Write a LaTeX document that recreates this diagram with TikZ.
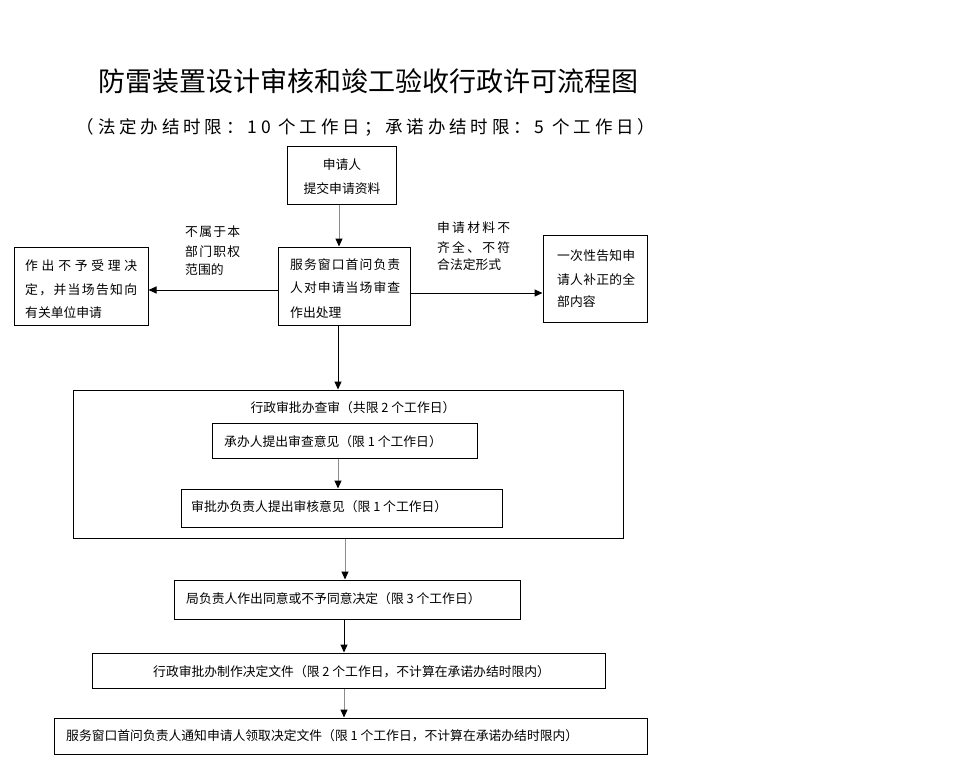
\documentclass[tikz,border=0pt]{standalone}
\usepackage{fontspec}
\newfontfamily\cjk{Noto Sans CJK SC}
\newfontfamily\cjksub[LetterSpace=22]{Noto Sans CJK SC}
\usetikzlibrary{arrows.meta}
\newcommand\jst[2]{\makebox[#1][s]{#2}}
\begin{document}
\begin{tikzpicture}[x=1pt,y=-1pt,
  box/.style={draw=black, line width=1pt, inner sep=0pt},
  txt/.style={font={\cjk\fontsize{12.8}{15}\selectfont}, inner sep=0pt, text=black},
  arr/.style={line width=1pt, draw=black, -{Triangle[length=8pt,width=7pt]}},
  garr/.style={line width=1pt, draw=black!45, -{Triangle[length=8pt,width=7pt,color=black]}}
]
\useasboundingbox (0,0) rectangle (960,779);

% title
\node[inner sep=0pt, font={\cjk\fontsize{27}{32}\selectfont}] (title) at (368,81) {防雷装置设计审核和竣工验收行政许可流程图};
\node[inner sep=0pt, font={\cjksub\fontsize{17.5}{20}\selectfont}] (sub) at (366,127) {（法定办结时限：10 个工作日；承诺办结时限：5 个工作日）};

% boxes
\node[box, minimum width=109pt, minimum height=58pt] (top) at (341.5,175) {};
\node[box, minimum width=132pt, minimum height=78pt] (mid) at (344,286) {};
\node[box, minimum width=134pt, minimum height=78pt] (left) at (81,286) {};
\node[box, minimum width=104pt, minimum height=87pt] (right) at (595,278.5) {};
\node[box, minimum width=550pt, minimum height=148pt] (big) at (348,464) {};
\node[box, minimum width=265pt, minimum height=35pt] (b1) at (344.5,440.5) {};
\node[box, minimum width=321pt, minimum height=38pt] (b2) at (341.5,508) {};
\node[box, minimum width=346pt, minimum height=39pt] (b3) at (347,599.5) {};
\node[box, minimum width=513pt, minimum height=35pt] (b4) at (348.5,670.5) {};
\node[box, minimum width=593pt, minimum height=36pt] (b5) at (350.5,736) {};

% texts
\node[txt] (top1) at (342,165) {申请人};
\node[txt] (top2) at (342,189) {提交申请资料};

\node[txt, anchor=west] (m1) at (290,265) {\jst{110pt}{服\hfill 务\hfill 窗\hfill 口\hfill 首\hfill 问\hfill 负\hfill 责}};
\node[txt, anchor=west] (m2) at (290,288) {\jst{110pt}{人\hfill 对\hfill 申\hfill 请\hfill 当\hfill 场\hfill 审\hfill 查}};
\node[txt, anchor=west] (m3) at (290,313) {作出处理};

\node[txt, anchor=west] (l1) at (25,266) {\jst{112pt}{作\hfill 出\hfill 不\hfill 予\hfill 受\hfill 理\hfill 决}};
\node[txt, anchor=west] (l2) at (25,290) {\jst{112pt}{定\hfill ，\hfill 并\hfill 当\hfill 场\hfill 告\hfill 知\hfill 向}};
\node[txt, anchor=west] (l3) at (25,313) {有关单位申请};

\node[txt, anchor=west] (r1) at (557,256) {\jst{78pt}{一\hfill 次\hfill 性\hfill 告\hfill 知\hfill 申}};
\node[txt, anchor=west] (r2) at (557,280) {\jst{78pt}{请\hfill 人\hfill 补\hfill 正\hfill 的\hfill 全}};
\node[txt, anchor=west] (r3) at (557,302) {部内容};

\node[txt, anchor=west] (la1) at (185,232) {\jst{55pt}{不\hfill 属\hfill 于\hfill 本}};
\node[txt, anchor=west] (la2) at (185,252) {\jst{55pt}{部\hfill 门\hfill 职\hfill 权}};
\node[txt, anchor=west] (la3) at (185,270) {范围的};

\node[txt, anchor=west] (lb1) at (437,228) {\jst{73pt}{申\hfill 请\hfill 材\hfill 料\hfill 不}};
\node[txt, anchor=west] (lb2) at (437,248) {\jst{73pt}{齐\hfill 全\hfill 、\hfill 不\hfill 符}};
\node[txt, anchor=west] (lb3) at (437,265) {合法定形式};

\node[txt] (bigt) at (353,408) {行政审批办查审（共限 2 个工作日）};
\node[txt, anchor=west] (b1t) at (224,442) {承办人提出审查意见（限 1 个工作日）};
\node[txt, anchor=west] (b2t) at (191,507) {审批办负责人提出审核意见（限 1 个工作日）};
\node[txt, anchor=west] (b3t) at (186,599) {局负责人作出同意或不予同意决定（限 3 个工作日）};
\node[txt, anchor=west] (b4t) at (153,672) {行政审批办制作决定文件（限 2 个工作日，不计算在承诺办结时限内）};
\node[txt, anchor=west] (b5t) at (66,736) {服务窗口首问负责人通知申请人领取决定文件（限 1 个工作日，不计算在承诺办结时限内）};

% connectors
\draw[garr] ([xshift=-2.5pt]top.south) -- ([xshift=-2.5pt]top.south |- mid.north);
\draw[arr] ([yshift=-4pt]mid.west) -- ([yshift=-4pt]mid.west -| left.east);
\draw[arr] ([yshift=-7pt]mid.east) -- ([yshift=-7pt]mid.east -| right.west);
\draw[arr] ([xshift=-6pt]mid.south) -- ([xshift=-6pt]mid.south |- big.north);
\draw[garr] ([xshift=-6.5pt]b1.south) -- ([xshift=-6.5pt]b1.south |- b2.north);
\draw[garr] ([xshift=-3pt]big.south) -- ([xshift=-3pt]big.south |- b3.north);
\draw[arr] ([xshift=-3pt]b3.south) -- ([xshift=-3pt]b3.south |- b4.north);
\draw[garr] ([xshift=-4.5pt]b4.south) -- ([xshift=-4.5pt]b4.south |- b5.north);
\end{tikzpicture}
\end{document}
